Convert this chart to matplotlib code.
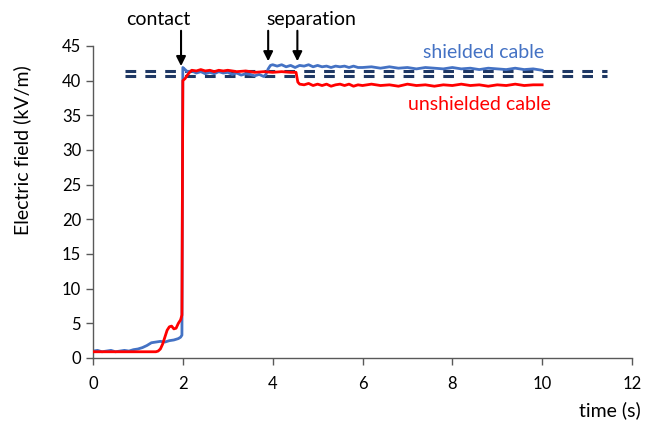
import matplotlib
matplotlib.use("Agg")
import matplotlib.pyplot as plt

plt.rcParams['font.family'] = ['Lato', 'DejaVu Sans']

# ---- data ----
t_shielded = [0.0, 0.1, 0.2, 0.3, 0.4, 0.5, 0.6, 0.7, 0.8, 0.9, 1.0, 1.1, 1.2, 1.3, 1.4,
              1.5, 1.6, 1.7, 1.8, 1.9, 1.95, 1.98, 2.0, 2.05, 2.1, 2.2, 2.3, 2.4, 2.5, 2.6,
              2.7, 2.8, 2.9, 3.0, 3.1, 3.2, 3.3, 3.4, 3.5, 3.6, 3.7, 3.8, 3.85, 3.9, 3.95,
              4.0, 4.1, 4.2, 4.3, 4.4, 4.5, 4.6, 4.7, 4.8, 4.9, 5.0, 5.1, 5.2, 5.3, 5.4,
              5.5, 5.6, 5.7, 5.8, 5.9, 6.0, 6.2, 6.4, 6.6, 6.8, 7.0, 7.2, 7.4, 7.6, 7.8,
              8.0, 8.2, 8.4, 8.6, 8.8, 9.0, 9.2, 9.4, 9.6, 9.8, 10.0]
e_shielded = [1.0, 1.1, 0.9, 1.0, 1.1, 0.9, 1.0, 1.1, 1.0, 1.2, 1.3, 1.5, 1.8, 2.2, 2.3,
              2.4, 2.3, 2.5, 2.6, 2.8, 3.0, 3.3, 41.9, 41.6, 41.3, 41.4, 41.1, 41.3, 41.0, 41.2,
              41.0, 41.3, 41.1, 41.2, 40.9, 41.1, 40.8, 41.0, 40.9, 40.7, 40.9, 40.6, 40.9, 41.7, 42.2,
              42.3, 42.1, 42.3, 42.0, 42.2, 41.9, 42.2, 42.1, 42.3, 42.0, 42.2, 42.0, 42.1, 41.9, 42.1,
              42.0, 42.1, 41.9, 42.1, 41.9, 41.9, 42.0, 41.8, 42.0, 41.8, 41.9, 41.7, 41.9, 41.8, 41.7,
              41.9, 41.7, 41.8, 41.6, 41.8, 41.7, 41.6, 41.8, 41.6, 41.7, 41.5]

t_unshielded = [0.0, 0.5, 1.0, 1.4, 1.45, 1.5, 1.55, 1.6, 1.65, 1.7, 1.75, 1.8, 1.85, 1.9,
                1.95, 1.98, 2.0, 2.05, 2.1, 2.15, 2.2, 2.3, 2.4, 2.5, 2.6, 2.7, 2.8, 2.9, 3.0,
                3.2, 3.4, 3.6, 3.8, 4.0, 4.2, 4.4, 4.52, 4.56, 4.6, 4.7, 4.8, 4.9, 5.0, 5.1,
                5.2, 5.3, 5.4, 5.5, 5.6, 5.7, 5.8, 5.9, 6.0, 6.2, 6.4, 6.6, 6.8, 7.0, 7.2,
                7.4, 7.6, 7.8, 8.0, 8.2, 8.4, 8.6, 8.8, 9.0, 9.2, 9.4, 9.6, 9.8, 10.0]
e_unshielded = [0.9, 0.9, 0.9, 0.9, 1.0, 1.3, 2.0, 3.0, 4.0, 4.5, 4.6, 4.2, 4.3, 5.0,
                5.5, 6.2, 40.0, 40.3, 40.8, 41.2, 41.5, 41.4, 41.6, 41.4, 41.5, 41.3, 41.5, 41.4, 41.5,
                41.3, 41.4, 41.2, 41.3, 41.2, 41.3, 41.2, 41.2, 39.8, 39.5, 39.4, 39.6, 39.3, 39.5, 39.3,
                39.5, 39.2, 39.4, 39.5, 39.3, 39.5, 39.2, 39.4, 39.3, 39.5, 39.3, 39.4, 39.2, 39.5, 39.3,
                39.4, 39.2, 39.4, 39.3, 39.5, 39.3, 39.4, 39.2, 39.4, 39.3, 39.5, 39.3, 39.4, 39.4]

ref_levels = [41.35, 40.7]
ref_span = [0.72, 11.45]
arrow_times = [1.96, 3.9, 4.55]

# ---- figure ----
fig = plt.figure(figsize=(6.51, 4.21), dpi=100)
ax = fig.add_axes([93/651, 1 - 358/421, (632-93)/651, (358-46)/421])

for lvl in ref_levels:
    ax.plot(ref_span, [lvl, lvl], color='#1F3864', lw=2.2, dashes=(3.5, 3.0), zorder=1)

ax.plot(t_shielded, e_shielded, color='#4472C4', lw=2.0, zorder=2)
ax.plot(t_unshielded, e_unshielded, color='#FF0000', lw=2.0, zorder=3)

ax.set_xlim(0, 12)
ax.set_ylim(0, 45)
ax.set_xticks(range(0, 13, 2))
ax.set_yticks(range(0, 46, 5))
for s in ['top', 'right']:
    ax.spines[s].set_visible(False)
for s in ['left', 'bottom']:
    ax.spines[s].set_color('#595959')
    ax.spines[s].set_linewidth(1.0)
ax.tick_params(axis='both', direction='out', length=5, color='#595959', labelsize=12,
               labelcolor='black', width=1.0)
ax.tick_params(axis='x', pad=8)

ax.set_ylabel('Electric field (kV/m)', fontsize=14)
ax.yaxis.set_label_coords(-0.115, 0.665)
ax.set_xlabel('time (s)', fontsize=14)
ax.xaxis.set_label_coords(1.017, -0.14)
ax.xaxis.label.set_horizontalalignment('right')

# annotations
for at in arrow_times:
    tip = 41.7 if at < 2.5 else 42.4
    ax.annotate('', xy=(at, tip), xytext=(at, 47.6),
                arrowprops=dict(arrowstyle='-|>', color='black', lw=1.5, mutation_scale=14),
                annotation_clip=False)
ax.text(1.45, 48.8, 'contact', fontsize=14, ha='center', va='center', clip_on=False)
ax.text(4.85, 48.8, 'separation', fontsize=14, ha='center', va='center', clip_on=False)
ax.text(8.7, 44.1, 'shielded cable', fontsize=14, ha='center', va='center', color='#4472C4')
ax.text(8.6, 36.5, 'unshielded cable', fontsize=14, ha='center', va='center', color='#FF0000')

fig.savefig('out.png', dpi=100)
